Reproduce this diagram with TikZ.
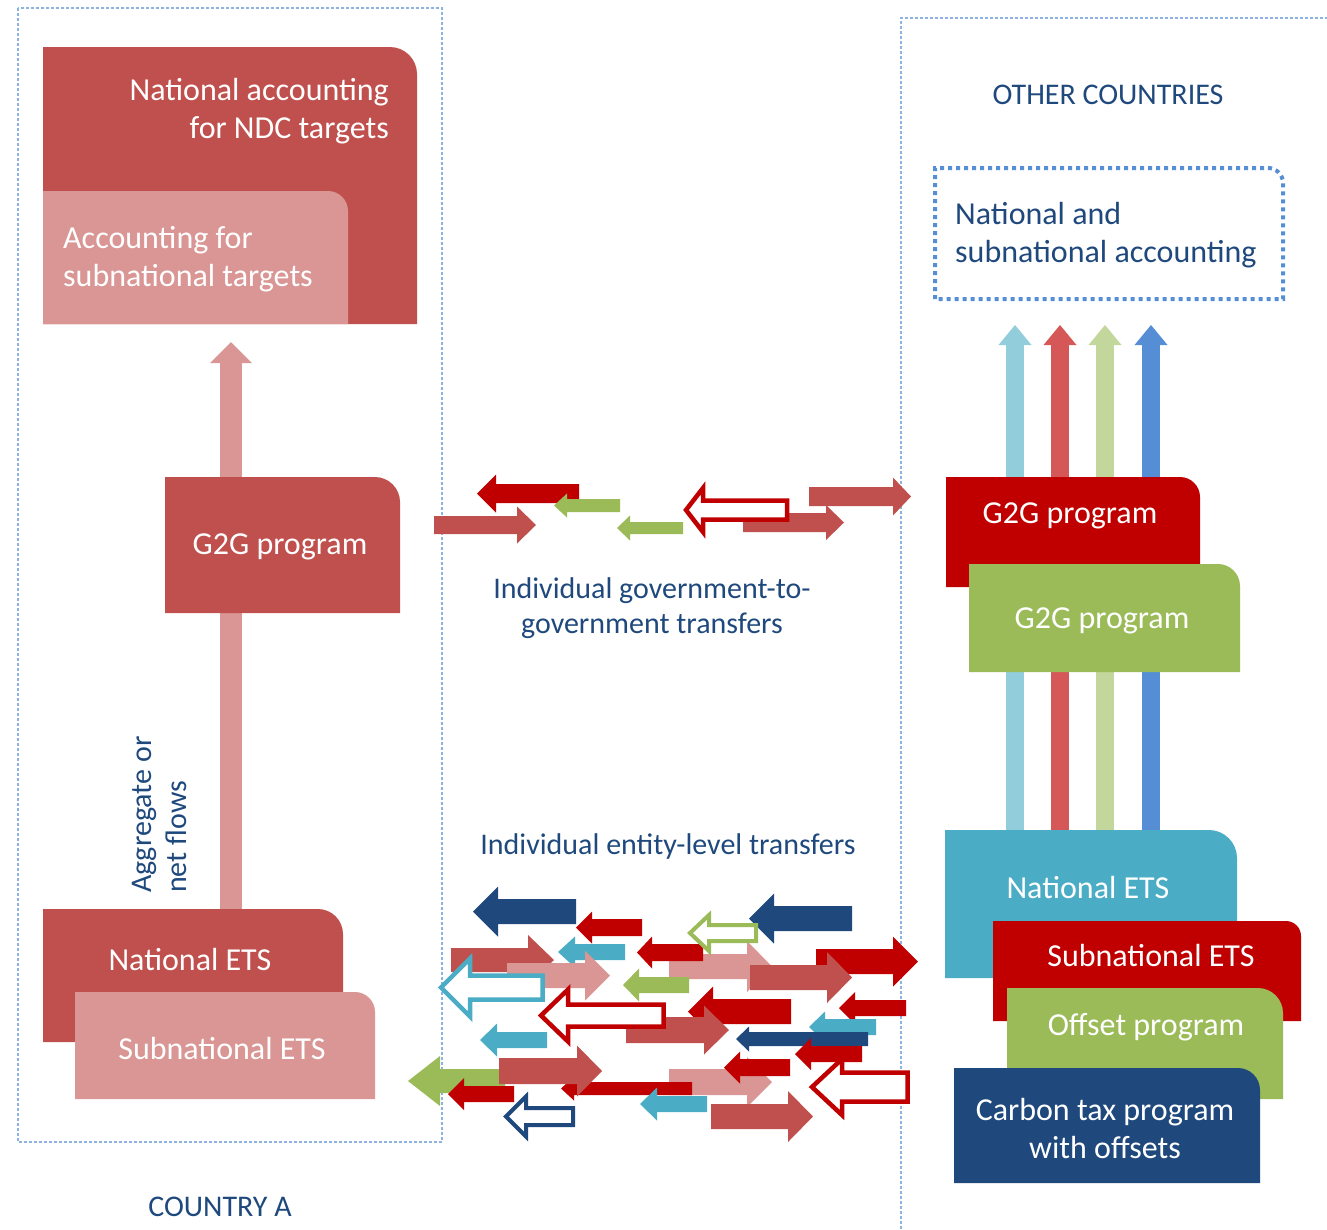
\documentclass[tikz,border=0pt]{standalone}
\usepackage{fontspec}
\setmainfont{Carlito}
\usetikzlibrary{arrows.meta}

\definecolor{brick}{HTML}{C0504D}
\definecolor{rose}{HTML}{D99694}
\definecolor{crimson}{HTML}{C00000}
\definecolor{olive}{HTML}{9BBB59}
\definecolor{aqua}{HTML}{4BACC6}
\definecolor{navy}{HTML}{1F497D}
\definecolor{framec}{HTML}{8DB3E2}
\definecolor{dotblue}{HTML}{558ED5}
\definecolor{paleaqua}{HTML}{92CDDC}
\definecolor{softred}{HTML}{D65757}
\definecolor{palegreen}{HTML}{C3D69B}
\definecolor{midblue}{HTML}{558ED5}

% box with one round corner (top right): [style]{x1}{y1}{x2}{y2}{radius}
\newcommand{\tabshape}[6][]{%
  \path[#1] (#2,#5) -- (#2,#3) -- (#4-#6,#3)
    .. controls (#4-0.45*#6,#3) and (#4,#3+0.45*#6) .. (#4,#3+#6)
    -- (#4,#5) -- cycle;}
% flat block arrow: [style]{tail x}{head base x}{tip x}{y}{half shaft}{half head}
\newcommand{\blockarrow}[7][]{%
  \path[#1] (#2,#5-#6) -- (#3,#5-#6) -- (#3,#5-#7) -- (#4,#5)
    -- (#3,#5+#7) -- (#3,#5+#6) -- (#2,#5+#6) -- cycle;}

\begin{document}
\begin{tikzpicture}[x=1pt, y=-1pt,
  frame/.style={draw=framec, line width=1.1pt, dash pattern=on 3pt off 2pt},
  boxtext/.style={text=white, font=\fontsize{32}{38}\selectfont, inner sep=0pt},
  note/.style={text=navy, font=\fontsize{30}{35}\selectfont, inner sep=0pt},
  flow/.style={draw=#1, line width=18pt,
    -{Triangle[width=33pt, length=20pt, line width=0pt]}},
  bigflow/.style={draw=#1, line width=22pt,
    -{Triangle[width=42pt, length=21pt, line width=0pt]}},
  hollow/.style={draw=#1, fill=white, line width=4.5pt, miter limit=10}]
  \useasboundingbox (0,0) rectangle (1327,1229);

  % the two sides
  \draw[frame] (18,8) rectangle (442,1142);
  \draw[frame] (901,1229) -- (901,18) -- (1327,18);
  \node[note] (countryA) at (220,1207) {COUNTRY A};
  \node[note] (others)   at (1108,95)  {OTHER COUNTRIES};

  % country A
  \tabshape[fill=brick]{43}{47}{417}{324}{27}
  \tabshape[fill=rose]{43}{191}{348}{324}{20}
  \node[boxtext, align=right, anchor=east] (natacc) at (389,111)
  {National accounting\\for NDC targets};
  \node[boxtext, align=left, anchor=west]  (subacc) at (63,259)
  {Accounting for\\subnational targets};

  \coordinate (aggfoot) at (231,909);
  \coordinate (aggtip)  at (231,342);
  \draw[bigflow=rose] (aggfoot) -- (aggtip);

  \tabshape[fill=brick]{165}{477}{400}{613}{25}
  \node[boxtext] (g2gA) at (280,547) {G2G program};
  \tabshape[fill=brick]{43}{909}{343}{1042}{25}
  \node[boxtext] (netsA) at (190,959) {National ETS};
  \tabshape[fill=rose]{75}{992}{375}{1099}{20}
  \node[boxtext] (subA) at (222,1048) {Subnational ETS};
  \node[note, rotate=90, anchor=west, align=left] (aggnote) at (159,893)
  {Aggregate or\\net flows};

  % other countries
  \tabshape[draw=dotblue, line width=4pt, dash pattern=on 4pt off 4pt]{935}{168}{1283}{299}{15}
  \node[note, font=\fontsize{32}{38}\selectfont, align=left, anchor=west] (nsacc) at (955,235)
  {National and\\subnational accounting};

  \foreach \x/\c in {1015/paleaqua, 1060/softred, 1105/palegreen, 1151/midblue}{
    \coordinate (\c-foot) at (\x,830);
    \coordinate (\c-tip)  at (\x,325);
    \draw[flow=\c] (\c-foot) -- (\c-tip);
  }

  \tabshape[fill=crimson]{946}{477}{1200}{587}{20}
  \node[boxtext] (g2gB) at (1070,516) {G2G program};
  \tabshape[fill=olive]{969}{564}{1240}{672}{22}
  \node[boxtext] (g2gC) at (1102,621) {G2G program};

  \tabshape[fill=aqua]{945}{830}{1237}{978}{28}
  \node[boxtext] (netsB) at (1088,887) {National ETS};
  \tabshape[fill=crimson]{993}{921}{1301}{1021}{15}
  \node[boxtext] (subB) at (1151,955) {Subnational ETS};
  \tabshape[fill=olive]{1007}{988}{1283}{1099}{25}
  \node[boxtext] (offset) at (1146,1027) {Offset program};
  \tabshape[fill=navy]{954}{1068}{1260}{1183}{22}
  \node[boxtext, align=center] (carbon) at (1105,1128)
  {Carbon tax program\\with offsets};

  % government-to-government transfers
  \blockarrow[fill=brick]{434}{517}{536}{525}{9}{18.5}
  \blockarrow[fill=crimson]{579}{496}{477}{493.5}{9.5}{19}
  \blockarrow[fill=olive]{620}{567}{554}{505.5}{6.5}{12}
  \blockarrow[fill=olive]{683}{630}{617}{528}{6}{12.5}
  \blockarrow[fill=brick]{743}{826}{844}{522.5}{9.5}{17.5}
  \blockarrow[hollow=crimson]{787}{703}{686}{510}{9.5}{22}
  \blockarrow[fill=brick]{809}{893}{911}{496.5}{9.5}{19}
  \node[note, align=center] (g2gnote) at (652,608)
  {Individual government-to-\\government transfers};

  % entity-level transfers
  \node[note] (entitynote) at (668,846) {Individual entity-level transfers};
  \blockarrow[fill=navy]{576}{498}{473}{911.5}{12.5}{25}
  \blockarrow[fill=crimson]{642}{592}{576}{927.5}{8.5}{16}
  \blockarrow[fill=navy]{852}{774}{749}{918.5}{12.5}{25}
  \blockarrow[fill=aqua]{625}{575}{558}{952}{8}{15.5}
  \blockarrow[fill=brick]{451}{528}{554}{960}{12}{25}
  \blockarrow[fill=rose]{507}{585}{610}{975.5}{12.5}{25}
  \blockarrow[hollow=aqua]{542.5}{470}{441}{987.5}{12}{29}
  \blockarrow[fill=rose]{669}{747}{772}{966.5}{12.5}{25.5}
  \blockarrow[fill=crimson]{703}{652}{637}{952.5}{8.5}{16}
  \blockarrow[hollow=olive, line width=4pt]{756}{709}{690}{933}{8}{18}
  \blockarrow[fill=olive]{689}{639}{623}{985}{8}{16.5}
  \blockarrow[fill=crimson]{816}{893}{918}{961.5}{12.5}{25}
  \blockarrow[fill=brick]{750}{827}{852}{977.5}{12.5}{25.5}
  \blockarrow[fill=crimson]{791}{713}{688}{1011.5}{12.5}{25}
  \blockarrow[fill=brick]{626}{704}{729}{1030}{13}{24.5}
  \blockarrow[hollow=crimson]{663.5}{568}{541}{1015.5}{11}{26}
  \blockarrow[fill=crimson]{906}{855}{839}{1008}{8}{16}
  \blockarrow[fill=aqua]{876}{825}{809}{1027}{8}{15.5}
  \blockarrow[fill=navy]{868}{749}{736}{1039}{7}{12.5}
  \blockarrow[fill=crimson]{862}{811}{795}{1054}{8}{16}
  \blockarrow[fill=aqua]{547}{497}{480}{1040}{8}{16.5}
  \blockarrow[fill=olive]{505}{440}{408}{1081}{12}{25}
  \blockarrow[fill=rose]{669}{747}{772}{1082}{13}{25}
  \blockarrow[fill=crimson]{692}{574}{561}{1088.5}{6.5}{12}
  \blockarrow[fill=brick]{499}{577}{602}{1071}{13}{25.5}
  \blockarrow[fill=crimson]{514}{464}{448}{1094}{8}{16}
  \blockarrow[fill=crimson]{790}{740}{724}{1067.5}{8.5}{16}
  \blockarrow[fill=aqua]{707}{657}{640}{1104}{8}{16.5}
  \blockarrow[fill=brick]{711}{788}{813}{1116.5}{12.5}{25.5}
  \blockarrow[hollow=crimson]{907.5}{842}{812}{1087}{14.5}{28}
  \blockarrow[hollow=navy, line width=4pt]{573}{526}{506}{1116.5}{8.5}{20}
\end{tikzpicture}
\end{document}
